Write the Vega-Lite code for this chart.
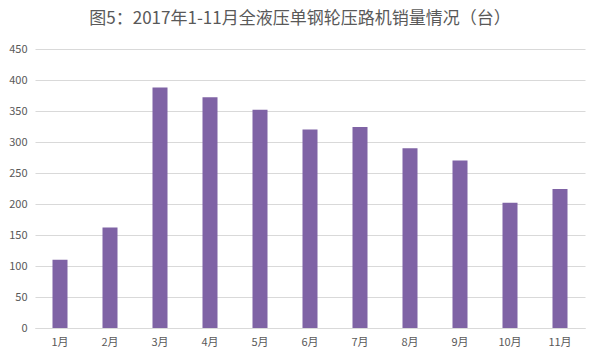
{
  "$schema": "https://vega.github.io/schema/vega-lite/v6.json",
  "width": 550,
  "height": 279,
  "autosize": {"type": "none"},
  "padding": {"left": 35, "top": 49, "right": 15, "bottom": 32},
  "background": "#ffffff",
  "title": {
    "text": "图5：2017年1-11月全液压单钢轮压路机销量情况（台）",
    "font": "Noto Sans CJK SC",
    "fontSize": 17,
    "fontWeight": "normal",
    "color": "#595959",
    "anchor": "middle",
    "dx": -10,
    "offset": 15
  },
  "data": {
    "values": [
      {"month": "1月", "value": 110},
      {"month": "2月", "value": 162},
      {"month": "3月", "value": 388},
      {"month": "4月", "value": 372},
      {"month": "5月", "value": 352},
      {"month": "6月", "value": 320},
      {"month": "7月", "value": 324},
      {"month": "8月", "value": 290},
      {"month": "9月", "value": 270},
      {"month": "10月", "value": 202},
      {"month": "11月", "value": 224}
    ]
  },
  "mark": {"type": "bar", "color": "#7F63A5"},
  "encoding": {
    "x": {
      "field": "month",
      "type": "nominal",
      "sort": null,
      "scale": {"paddingInner": 0.7, "paddingOuter": 0.35},
      "axis": {
        "title": null,
        "labelAngle": 0,
        "ticks": false,
        "domainColor": "#D9D9D9",
        "labelColor": "#595959",
        "labelFont": "Noto Sans CJK SC",
        "labelFontSize": 11,
        "labelPadding": 8
      }
    },
    "y": {
      "field": "value",
      "type": "quantitative",
      "scale": {"domain": [0, 450]},
      "axis": {
        "title": null,
        "values": [0, 50, 100, 150, 200, 250, 300, 350, 400, 450],
        "domain": false,
        "ticks": false,
        "gridColor": "#D9D9D9",
        "labelColor": "#595959",
        "labelFont": "Noto Sans CJK SC",
        "labelFontSize": 11,
        "labelPadding": 8
      }
    }
  },
  "config": {"view": {"stroke": null}}
}
